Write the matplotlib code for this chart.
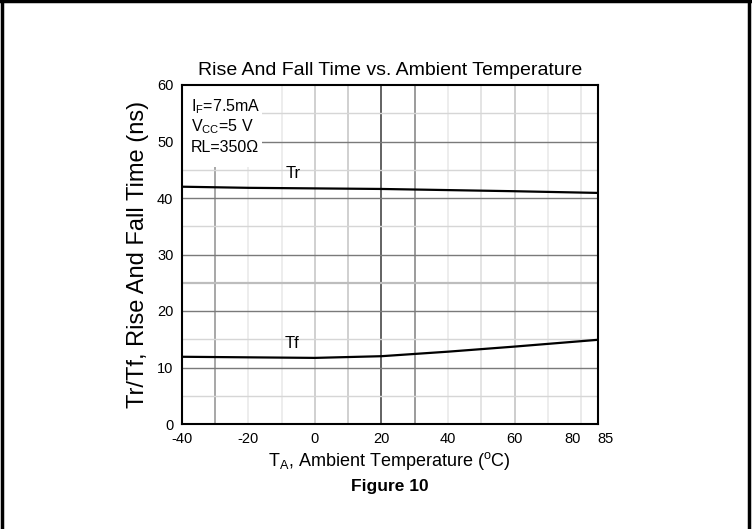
import matplotlib
matplotlib.use("Agg")
import matplotlib.pyplot as plt
from matplotlib.patches import Rectangle

plt.rcParams['font.family'] = ['Liberation Sans', 'DejaVu Sans']

# Data
temp = [-40, -20, 0, 20, 40, 60, 85]
tr = [42.0, 41.8, 41.7, 41.6, 41.4, 41.2, 40.9]
tf = [11.9, 11.8, 11.7, 12.0, 12.8, 13.7, 14.9]
xticks = [-40, -20, 0, 20, 40, 60, 80, 85]
yticks = [0, 10, 20, 30, 40, 50, 60]

fig = plt.figure(figsize=(7.52, 5.29), dpi=100)
W, H = 752, 529
ax = fig.add_axes([181.7 / W, 1 - 424 / H, (597.7 - 181.7) / W, (424 - 85) / H])

ax.set_xlim(-40, 85)
ax.set_ylim(0, 60)

# grid lines (shades as in the scanned original)
vshade = {-30: '#909090', -20: '#e8e8e8', -10: '#e8e8e8', 0: '#c4c4c4', 10: '#c4c4c4',
          20: '#383838', 30: '#808080', 40: '#e8e8e8', 50: '#dcdcdc', 60: '#c0c0c0',
          70: '#e8e8e8', 80: '#e4e4e4'}
for xv, c in vshade.items():
    ax.axvline(xv, color=c, lw=1.1, zorder=1)
for yv in range(5, 60, 5):
    if yv % 10 == 0:
        c, lw = '#7a7a7a', 1.0
    elif yv == 25:
        c, lw = '#bdbdbd', 1.6
    else:
        c, lw = '#d6d6d6', 1.0
    ax.axhline(yv, color=c, lw=lw, zorder=1)

# white box behind condition text
ax.add_patch(Rectangle((0, 45.5 / 60), (262 - 181.7) / 416, 1 - 45.5 / 60,
                       transform=ax.transAxes, facecolor='white', edgecolor='none', zorder=2))

ax.plot(temp, tr, color='black', lw=1.6, zorder=3)
ax.plot(temp, tf, color='black', lw=1.6, zorder=3)

ax.text(-6.6, 44.3, 'Tr', fontsize=12, ha='center', va='center', zorder=4)
ax.text(-7.0, 14.3, 'Tf', fontsize=12, ha='center', va='center', zorder=4)

ax.text(-37.3, 56.2, r'I$_{\mathregular{F}}$=7.5mA', fontsize=11.5, ha='left', va='center', zorder=4)
ax.text(-37.3, 52.6, r'V$_{\mathregular{CC}}$=5 V', fontsize=11.5, ha='left', va='center', zorder=4)
ax.text(-37.3, 48.9, 'RL=350Ω', fontsize=11.5, ha='left', va='center', zorder=4)

ax.set_xticks(xticks)
ax.set_xticklabels([str(v) for v in xticks])
ax.set_yticks(yticks)
ax.tick_params(length=0, labelsize=10.5, pad=6)
for lbl in ax.get_xticklabels():
    if lbl.get_text() == '80':
        lbl.set_horizontalalignment('right')
    elif lbl.get_text() == '85':
        lbl.set_horizontalalignment('left')
for s in ax.spines.values():
    s.set_linewidth(1.5)
    s.set_zorder(5)

ax.set_title('Rise And Fall Time vs. Ambient Temperature', fontsize=14, pad=7)
ax.set_xlabel(r'T$_{\mathregular{A}}$, Ambient Temperature ($^{\mathregular{o}}$C)', fontsize=13, labelpad=3)
ax.set_ylabel('Tr/Tf, Rise And Fall Time (ns)', fontsize=17, labelpad=6)

fig.text(390 / W, 1 - 487 / H, 'Figure 10', fontsize=12.5, fontweight='bold',
         ha='center', va='center')

# figure frame (left, top, right)
fig.add_artist(plt.Line2D([2 / W, 2 / W], [0, 1], transform=fig.transFigure, color='black', lw=2.5))
fig.add_artist(plt.Line2D([749 / W, 749 / W], [0, 1], transform=fig.transFigure, color='black', lw=2.5))
fig.add_artist(plt.Line2D([0, 1], [1 - 1 / H, 1 - 1 / H], transform=fig.transFigure, color='black', lw=2.5))

fig.savefig('out.png', dpi=100)
